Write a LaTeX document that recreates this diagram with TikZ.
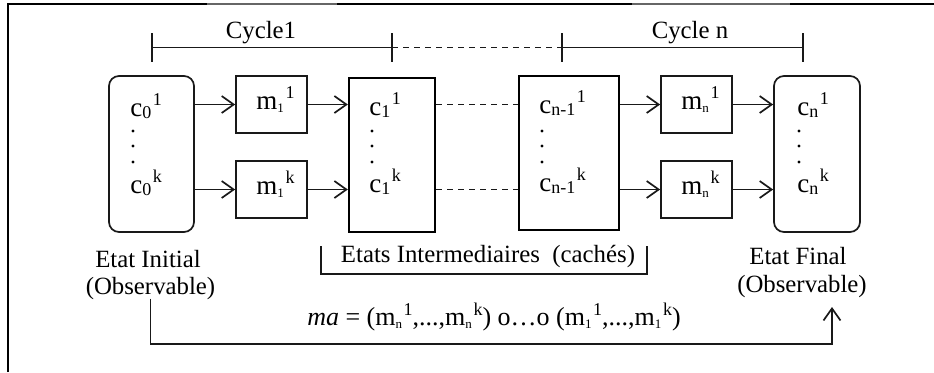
\documentclass[tikz,border=0pt]{standalone}
\usepackage{fontspec}
\setmainfont{Liberation Serif}
\usetikzlibrary{arrows.meta}
\newcommand\csb[1]{\raisebox{-1.2pt}{\fontsize{9}{9}\selectfont #1}}
\newcommand\msb[1]{\raisebox{-1.5pt}{\fontsize{6.5}{7}\selectfont #1}}
\newcommand\ssp[1]{\kern0.8pt\raisebox{5.2pt}{\fontsize{9}{9}\selectfont #1}}
\begin{document}
\begin{tikzpicture}[x=0.5pt,y=-0.5pt,font=\fontsize{12.4}{14}\selectfont,
  ln/.style={line width=0.85pt,draw=black!90},
  arr/.style={ln,-{Straight Barb[length=6pt,width=8.5pt,line width=0.85pt]}},
  dsh/.style={ln,dash pattern=on 3pt off 2.5pt},
  mbox/.style={ln,draw,minimum width=35.5pt,minimum height=28.5pt,inner sep=0pt},
  obsbox/.style={ln,draw,rounded corners=5pt,minimum width=42.5pt,minimum height=78pt,inner sep=0pt},
  hidbox/.style={draw=black,line width=1.15pt,minimum height=77pt,inner sep=0pt},
  lbl/.style={inner sep=0pt,anchor=base west,font=\fontsize{13.5}{14}\selectfont},
  txt/.style={inner sep=0pt}]
\useasboundingbox (0,0) rectangle (934,372);
% frame (cropped)
\draw[line width=1pt] (8,372) -- (8,4) -- (207,4);
\draw[line width=0.6pt,draw=black!60] (207,4) -- (337,4);
\draw[line width=1pt] (337,4) -- (632,4);
\draw[line width=0.6pt,draw=black!60] (632,4) -- (790,4);
\draw[line width=1pt] (790,4) -- (934,4);
% cycle brackets
\coordinate (t0) at (152,47.5);
\coordinate (t1) at (392,47.5);
\coordinate (t2) at (562,47.5);
\coordinate (t3) at (803,47.5);
\draw[ln] (t0) -- (t1);
\draw[dsh] (t1) -- (t2);
\draw[ln] (t2) -- (t3);
\foreach \t in {t0,t1,t2,t3}{\draw[ln] ([yshift=7.2pt]\t) -- ([yshift=-7.2pt]\t);}
\node[txt] (cyc1) at (261,33) {Cycle1};
\node[txt] (cycn) at (690,33) {Cycle n};
% boxes
\node[obsbox] (init) at (151.5,154) {};
\node[mbox] (m11) at (271.5,104.5) {};
\node[mbox] (m1k) at (271.5,189.5) {};
\node[hidbox,minimum width=43pt] (c1) at (392,155) {};
\node[hidbox,minimum width=50pt] (cn1) at (569,153) {};
\node[mbox] (mn1) at (696.5,104.5) {};
\node[mbox] (mnk) at (696.5,189.5) {};
\node[obsbox,minimum width=43pt] (fin) at (817,154) {};
% texts in boxes
\node[lbl] (tm11) at (256,109) {m\msb{1}\ssp{1}};
\node[lbl] (tm1k) at (256,194) {m\msb{1}\ssp{k}};
\node[lbl] (tmn1) at (681,109) {m\msb{n}\ssp{1}};
\node[lbl] (tmnk) at (681,194) {m\msb{n}\ssp{k}};
\node[lbl] (c01) at (130,116) {c\csb{0}\ssp{1}};
\node[lbl] (c0k) at (130,193) {c\csb{0}\ssp{k}};
\node[lbl] (c11) at (369,115) {c\csb{1}\ssp{1}};
\node[lbl] (c1k) at (369,192) {c\csb{1}\ssp{k}};
\node[lbl] (cn11) at (539,113) {c\csb{n-1}\ssp{1}};
\node[lbl] (cn1k) at (539,191) {c\csb{n-1}\ssp{k}};
\node[lbl] (cn1t) at (797,115) {c\csb{n}\ssp{1}};
\node[lbl] (cnkt) at (797,192) {c\csb{n}\ssp{k}};
\foreach \x in {133,372,542,799}{\foreach \y in {131,146,162}{\fill (\x,\y) circle (0.8pt);}}
% arrows
\draw[arr] (init.east |- m11.west) -- (m11.west);
\draw[arr] (init.east |- m1k.west) -- (m1k.west);
\draw[arr] (m11.east) -- (m11.east -| c1.west);
\draw[arr] (m1k.east) -- (m1k.east -| c1.west);
\draw[dsh] (c1.east |- m11.east) -- (cn1.west |- m11.east);
\draw[dsh] (c1.east |- m1k.east) -- (cn1.west |- m1k.east);
\draw[arr] (cn1.east |- mn1.west) -- (mn1.west);
\draw[arr] (cn1.east |- mnk.west) -- (mnk.west);
\draw[arr] (mn1.east) -- (mn1.east -| fin.west);
\draw[arr] (mnk.east) -- (mnk.east -| fin.west);
% labels
\node[txt] (ei) at (148,259) {Etat Initial};
\node[txt] (obs1) at (150.5,289) {(Observable)};
\node[txt] (inter) at (488,257) {Etats Intermediaires\ \ (cachés)};
\coordinate (b0) at (321,246);
\coordinate (b1) at (321,274);
\coordinate (b2) at (647,274);
\coordinate (b3) at (647,246);
\draw[ln] (b0) -- (b1) -- (b2) -- (b3);
\node[txt] (ef) at (798,256) {Etat Final};
\node[txt] (obs2) at (802,287) {(Observable)};
\node[txt,font=\fontsize{13}{14}\selectfont] (ma) at (494,317) {\textit{ma} = (m\msb{n}\ssp{1},...,m\msb{n}\ssp{k}) o…o (m\msb{1}\ssp{1},...,m\msb{1}\ssp{k})};
% bottom connector
\coordinate (low) at (832,344);
\coordinate (tip) at (832,307);
\draw[arr] (obs1.south) ++(0,-2) |- (low) -- (tip);
\end{tikzpicture}
\end{document}
